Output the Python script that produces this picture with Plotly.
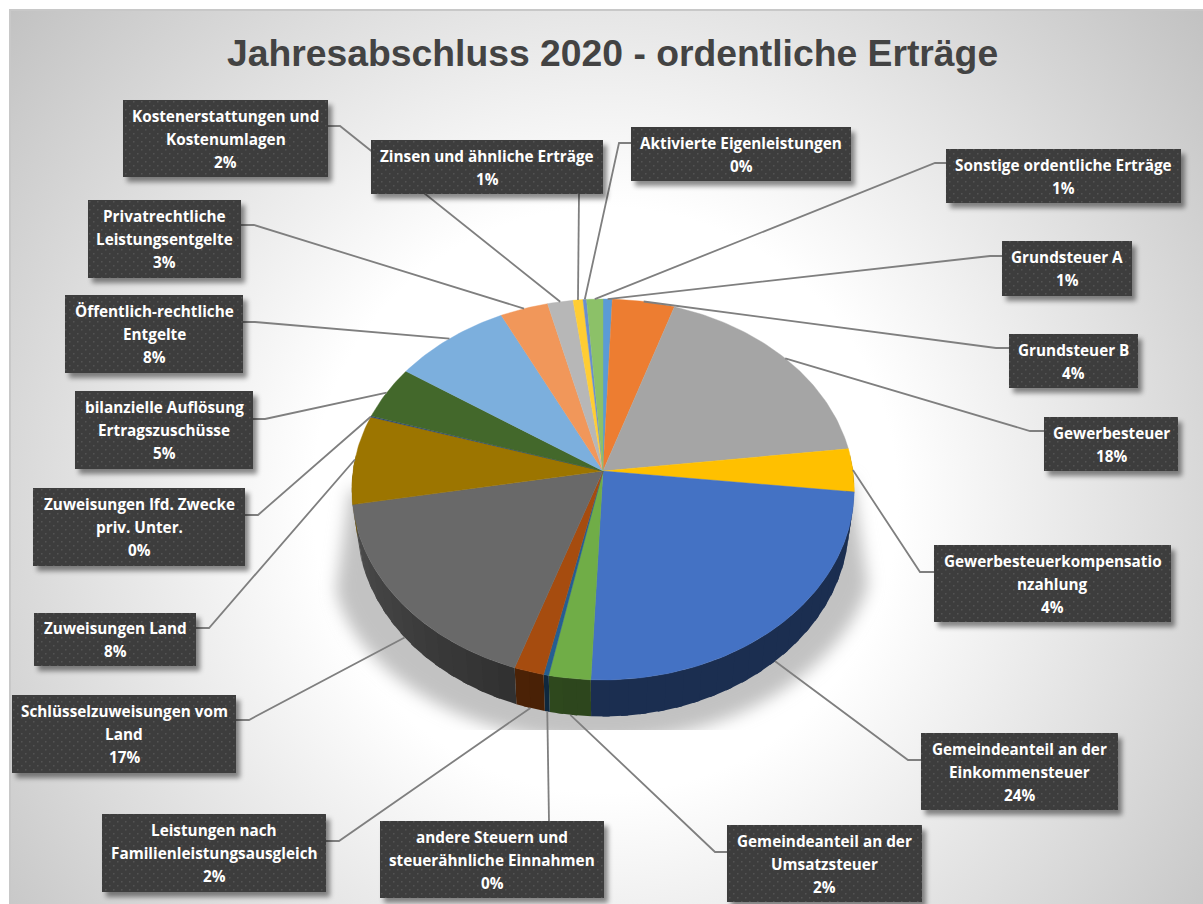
import base64
import math

import plotly.graph_objects as go

# share of ordinary income, percent
categories = [
    "Grundsteuer A", "Grundsteuer B", "Gewerbesteuer",
    "Gewerbesteuerkompensatio<br>nzahlung",
    "Gemeindeanteil an der<br>Einkommensteuer",
    "Gemeindeanteil an der<br>Umsatzsteuer",
    "andere Steuern und<br>steuerähnliche Einnahmen",
    "Leistungen nach<br>Familienleistungsausgleich",
    "Schlüsselzuweisungen vom<br>Land",
    "Zuweisungen Land",
    "Zuweisungen lfd. Zwecke<br>priv. Unter.",
    "bilanzielle Auflösung<br>Ertragszuschüsse",
    "Öffentlich-rechtliche<br>Entgelte",
    "Privatrechtliche<br>Leistungsentgelte",
    "Kostenerstattungen und<br>Kostenumlagen",
    "Zinsen und ähnliche Erträge",
    "Aktivierte Eigenleistungen",
    "Sonstige ordentliche Erträge",
]
shares = [0.65, 4.4, 18.05, 3.65, 23.95, 2.45, 0.3, 1.75, 17.0,
          7.55, 0.1, 4.55, 8.3, 3.4, 1.8, 0.7, 0.25, 1.15]
colors = ["#5B9BD5", "#ED7D31", "#A5A5A5", "#FFC000", "#4472C4", "#70AD47",
          "#255E91", "#A64C0F", "#696969", "#9C7500", "#264478", "#43682B",
          "#7CAFDD", "#F1975A", "#B7B7B7", "#FFCD33", "#698ED0", "#8CC168"]

# label boxes: x0, y0, x1, y1 in page pixels
boxes = [
    (1002, 241, 1132, 296), (1009, 334, 1138, 388), (1044, 417, 1178, 471),
    (934, 545, 1171, 622), (921, 733, 1118, 810), (727, 825, 922, 902),
    (380, 821, 604, 898), (102, 814, 326, 892), (12, 695, 236, 773),
    (34, 613, 196, 666), (33, 488, 245, 566), (75, 391, 253, 469),
    (65, 295, 243, 373), (88, 200, 241, 278), (123, 100, 328, 177),
    (371, 140, 603, 194), (631, 127, 851, 181), (946, 149, 1181, 203),
]
# where each leader leaves its box, then its elbow
leader_starts = [
    [(1002, 256), (990, 256)], [(1009, 348), (996, 348)], [(1044, 431), (1030, 431)],
    [(934, 572), (920, 572)], [(921, 760), (908, 760)], [(727, 852), (715, 852)],
    [(549, 821)], [(326, 841), (339, 841)], [(236, 720), (249, 720)],
    [(196, 628), (209, 628)], [(245, 515), (258, 515)], [(253, 419), (265, 419)],
    [(243, 322), (255, 322)], [(241, 225), (254, 225)], [(328, 126), (340, 126)],
    [(579, 194)], [(631, 143), (619, 143)], [(946, 163), (935, 163)],
]

CX, CY = 603, 471
RX, RY = 250, 188.7
PERSP = 0.097
DEPTH = 33
BOTTOM_SCALE = 0.98
LINE_H = 23
WALL_FROM = math.radians(85)
WALL_TO = math.radians(275)


def rim(theta):
    u, v = math.sin(theta), math.cos(theta)
    w = 1 + PERSP * v
    return CX + RX * u / w, CY - RY * v / w, w


def lower(theta):
    x, y, w = rim(theta)
    return CX + (x - CX) * BOTTOM_SCALE, y + DEPTH / w


def arc(a, b):
    n = max(2, int(abs(b - a) / math.radians(1)) + 2)
    return [a + (b - a) * i / (n - 1) for i in range(n)]


def shade(hex_color, f):
    r, g, b = [int(hex_color[i:i + 2], 16) for i in (1, 3, 5)]
    return f"rgb({int(r * f)},{int(g * f)},{int(b * f)})"


def wall_shade(theta):
    # the side gets lighter towards the left end of the pie
    deg = math.degrees(theta)
    return 0.41 if deg < 188 else 0.41 + (deg - 188) / 72 * 0.33


edges = [0]
for s in shares:
    edges.append(edges[-1] + s / sum(shares) * 2 * math.pi)

fig = go.Figure()

# side wall first in small strips, each one runs under the next so no seams show
for i, c in enumerate(colors):
    a = max(edges[i], WALL_FROM)
    b = min(edges[i + 1], WALL_TO)
    if b <= a:
        continue
    n = max(1, int((b - a) / math.radians(4)) + 1)
    for k in range(n):
        t0 = a + (b - a) * k / n
        t1 = min(b, a + (b - a) * (k + 1) / n + math.radians(1.5))
        angles = arc(t0, t1)
        top = [rim(t) for t in angles]
        low = [lower(t) for t in reversed(angles)]
        col = shade(c, wall_shade((t0 + t1) / 2))
        fig.add_trace(go.Scatter(
            x=[p[0] for p in top] + [p[0] for p in low],
            y=[p[1] for p in top] + [p[1] for p in low],
            mode="lines", fill="toself", fillcolor=col,
            line=dict(width=0), hoverinfo="skip",
        ))

for i, c in enumerate(colors):
    pts = [rim(t) for t in arc(edges[i], edges[i + 1])]
    fig.add_trace(go.Scatter(
        x=[CX] + [p[0] for p in pts] + [CX],
        y=[CY] + [p[1] for p in pts] + [CY],
        mode="lines", fill="toself", fillcolor=c,
        line=dict(width=0.4, color=c),
        text=categories[i].replace("<br>", " "), hoverinfo="text",
    ))

# leader lines end on the rim at the middle of the slice
for i, start in enumerate(leader_starts):
    mid = (edges[i] + edges[i + 1]) / 2
    if math.cos(mid) < -0.2:
        end = lower(mid)
    else:
        end = rim(mid)[:2]
    pts = start + [end]
    fig.add_trace(go.Scatter(
        x=[p[0] for p in pts], y=[p[1] for p in pts], mode="lines",
        line=dict(width=1.8, color="#7f7f7f"), hoverinfo="skip",
    ))

back_svg = f"""<svg xmlns="http://www.w3.org/2000/svg" width="1203" height="904" viewBox="0 0 1203 904">
<defs>
<radialGradient id="bg" gradientUnits="userSpaceOnUse" cx="605" cy="500" r="770">
<stop offset="0.38" stop-color="#ffffff"/><stop offset="1" stop-color="#c2c2c2"/>
</radialGradient>
<filter id="blur" x="-20%" y="-20%" width="140%" height="140%"><feGaussianBlur stdDeviation="8"/></filter>
<clipPath id="cut"><rect x="0" y="0" width="1203" height="730"/></clipPath>
</defs>
<rect width="1203" height="904" fill="#ffffff"/>
<rect x="10" y="10" width="1200" height="900" fill="url(#bg)" stroke="#c8c8c8" stroke-width="2"/>
<g clip-path="url(#cut)"><path filter="url(#blur)" fill="#c2c2c2"
d="M852,480 L868,585 C850,650 760,738 603,742 C450,742 350,660 336,590 L350,490 Z"/></g>
</svg>"""

box_rects = "".join(
    f'<rect x="{b[0]}" y="{b[1]}" width="{b[2] - b[0]}" height="{b[3] - b[1]}" '
    f'fill="url(#dots)" filter="url(#drop)"/>' for b in boxes
)
front_svg = f"""<svg xmlns="http://www.w3.org/2000/svg" width="1203" height="904" viewBox="0 0 1203 904">
<defs>
<pattern id="dots" patternUnits="userSpaceOnUse" width="8" height="8">
<rect width="8" height="8" fill="#3e3e3e"/>
<rect x="1" y="1" width="1.5" height="1.5" fill="#525252"/>
<rect x="5" y="5" width="1.5" height="1.5" fill="#525252"/>
</pattern>
<filter id="drop" x="-10%" y="-20%" width="120%" height="150%">
<feDropShadow dx="4" dy="5" stdDeviation="2.5" flood-color="#000000" flood-opacity="0.45"/>
</filter>
</defs>
{box_rects}
</svg>"""


def as_image(svg, layer):
    src = "data:image/svg+xml;base64," + base64.b64encode(svg.encode("utf-8")).decode()
    return dict(source=src, xref="paper", yref="paper", x=0, y=1, sizex=1, sizey=1,
                sizing="stretch", xanchor="left", yanchor="top", layer=layer)


annotations = [dict(
    text="Jahresabschluss 2020 - ordentliche Erträge", x=612, y=53,
    xref="x", yref="y", showarrow=False, xanchor="center", yanchor="middle",
    font=dict(family="Liberation Sans", size=37.3, color="#434343", weight="bold"),
)]
for i, name in enumerate(categories):
    lines = name.split("<br>") + [f"{round(shares[i])}%"]
    b = boxes[i]
    mid_x = (b[0] + b[2]) / 2
    top_y = (b[1] + b[3]) / 2 - LINE_H * (len(lines) - 1) / 2
    for j, line in enumerate(lines):
        annotations.append(dict(
            text=line, x=mid_x, y=top_y + j * LINE_H,
            xref="x", yref="y", showarrow=False, xanchor="center", yanchor="middle",
            font=dict(family="Open Sans", size=15.3, color="#ffffff", weight="bold"),
        ))

fig.update_layout(
    width=1203, height=904,
    margin=dict(l=0, r=0, t=0, b=0),
    showlegend=False,
    paper_bgcolor="#ffffff", plot_bgcolor="rgba(0,0,0,0)",
    xaxis=dict(range=[0, 1203], visible=False, fixedrange=True),
    yaxis=dict(range=[904, 0], visible=False, fixedrange=True),
    images=[as_image(back_svg, "below"), as_image(front_svg, "above")],
    annotations=annotations,
)

fig.write_html("out.html", config=dict(displayModeBar=False),
               post_script="document.body.style.margin='0';document.body.style.overflow='hidden';")
